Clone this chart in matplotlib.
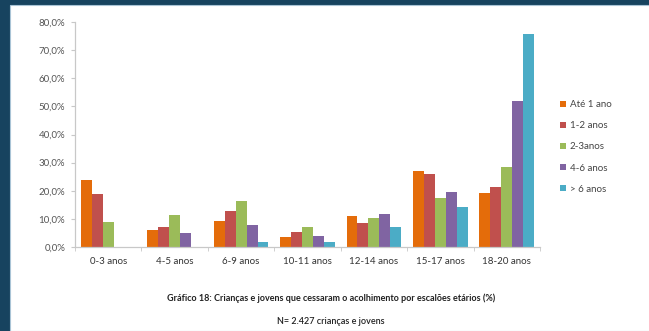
import numpy as np
import matplotlib.pyplot as plt
from matplotlib.patches import Rectangle
from matplotlib.ticker import FuncFormatter, FixedLocator

plt.rcParams['font.family'] = ['Lato', 'DejaVu Sans']

categories = ['0-3 anos', '4-5 anos', '6-9 anos', '10-11 anos', '12-14 anos', '15-17 anos', '18-20 anos']
series = ['Até 1 ano', '1-2 anos', '2-3anos', '4-6 anos', '> 6 anos']
ate_1 = [23.8, 6.1, 9.4, 3.5, 10.9, 27.0, 19.1]
anos_1_2 = [18.7, 7.2, 12.9, 5.2, 8.5, 25.9, 21.2]
anos_2_3 = [9.0, 11.4, 16.2, 7.1, 10.3, 17.4, 28.4]
anos_4_6 = [0.0, 5.1, 7.7, 3.9, 11.6, 19.6, 51.9]
mais_6 = [0.0, 0.0, 1.7, 1.7, 7.0, 14.3, 75.6]
values = [ate_1, anos_1_2, anos_2_3, anos_4_6, mais_6]
colors = ['#E46C0A', '#C0504D', '#9BBB59', '#8064A2', '#4BACC6']

fig = plt.figure(figsize=(6.49, 3.31), dpi=100)
fig.patch.set_facecolor('#17435f')
# white panel
fig.patches.append(Rectangle((10 / 649, 0), 1, 1 - 5 / 331, transform=fig.transFigure,
                             facecolor='white', edgecolor='#a9c4d6', linewidth=0.8, zorder=-1))

ax = fig.add_axes([75 / 649, 1 - 247 / 331, 465 / 649, 225 / 331])
ax.set_facecolor('none')
ax.set_zorder(2)

x = np.arange(len(categories))
w = 0.165
for i, (name, vals) in enumerate(zip(series, values)):
    ax.bar(x + (i - 2) * w, vals, width=w, color=colors[i], label=name, zorder=2)

ax.set_xlim(-0.5, len(categories) - 0.5)
ax.set_ylim(0, 80)
ax.set_yticks(np.arange(0, 81, 10))
ax.yaxis.set_major_formatter(FuncFormatter(lambda v, p: f'{v:.1f}%'.replace('.', ',')))
ax.set_xticks(x)
ax.set_xticklabels(categories)
ax.xaxis.set_minor_locator(FixedLocator(np.arange(-0.5, len(categories), 1)))

for s in ['top', 'right']:
    ax.spines[s].set_visible(False)
for s in ['left', 'bottom']:
    ax.spines[s].set_color('#c8c8c8')
    ax.spines[s].set_linewidth(0.9)

ax.tick_params(axis='y', length=3, color='#c8c8c8', labelsize=7, labelcolor='#555555', pad=4)
ax.tick_params(axis='x', which='major', length=0, labelsize=7, labelcolor='#333333', pad=7)
ax.tick_params(axis='x', which='minor', length=3, color='#c8c8c8')

ax.legend(loc='upper left', bbox_to_anchor=(1.035, 0.67), frameon=False, fontsize=7,
          handlelength=0.6, handleheight=0.6, handletextpad=0.4, labelspacing=1.25,
          labelcolor='#444444', borderaxespad=0)

fig.text(331 / 649, 1 - 298 / 331,
         'Gráfico 18: Crianças e jovens que cessaram o acolhimento por escalões etários (%)',
         ha='center', va='center', fontsize=6.5, fontweight='bold', color='#222222')
fig.text(331 / 649, 1 - 321 / 331, 'N= 2.427 crianças e jovens',
         ha='center', va='center', fontsize=6.5, fontweight='semibold', color='#222222')

fig.savefig('out.png', dpi=100)
